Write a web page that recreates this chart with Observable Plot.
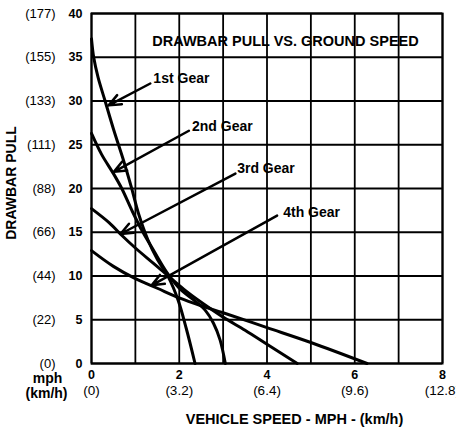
<!DOCTYPE html>
<html><head><meta charset="utf-8">
<script src="https://cdn.jsdelivr.net/npm/d3@7"></script>
<script src="https://cdn.jsdelivr.net/npm/@observablehq/plot@0.6"></script>
<style>
html,body{margin:0;padding:0;background:#fff;overflow:hidden;}
#chart svg{font-family:"Liberation Sans",Arial,Helvetica,sans-serif;}
</style></head><body><div id="chart"></div>
<script>
// Gear curves: vehicle speed (mph) vs drawbar pull
const gear1Speed = [0, 0.05, 0.15, 0.31, 0.5, 0.73, 0.9, 1.08, 1.28, 1.5, 1.75, 1.97, 2.16, 2.36];
const gear1Pull  = [37.1, 35, 32.7, 30, 26.8, 23.2, 20.3, 17, 14.2, 11.9, 9.9, 7.3, 4, 0];
const gear2Speed = [0, 0.23, 0.5, 0.69, 0.93, 1.16, 1.43, 1.72, 2.0, 2.32, 2.59, 2.78, 2.93, 3.05];
const gear2Pull  = [26.3, 23.9, 21.7, 20, 17.4, 15.1, 12.8, 10.4, 8.6, 7.3, 6.1, 4.6, 2.7, 0];
const gear3Speed = [0, 0.4, 0.7, 1.0, 1.4, 1.75, 2.1, 2.5, 3.0, 3.5, 4.0, 4.69];
const gear3Pull  = [17.7, 16.1, 14.6, 13.2, 11.5, 10.0, 8.5, 7.0, 5.3, 3.8, 2.2, 0];
const gear4Speed = [0, 0.5, 1.0, 1.5, 2.0, 2.5, 3.0, 4.0, 5.0, 6.28];
const gear4Pull  = [12.9, 11.1, 9.7, 8.6, 7.5, 6.6, 5.8, 4.1, 2.4, 0];

// Annotations (data units)
const gearNames  = ["1st Gear", "2nd Gear", "3rd Gear", "4th Gear"];
const labelSpeed = [1.41, 2.29, 3.32, 4.37];
const labelPull  = [32.6, 27.1, 22.3, 17.25];
const tailSpeed  = [1.34, 2.22, 3.28, 4.23];
const tailPull   = [32.0, 26.6, 21.7, 16.9];
const tipSpeed   = [0.39, 0.51, 0.66, 1.37];
const tipPull    = [29.5, 21.9, 14.8, 8.93];

// Axes
const xTicks = [0, 2, 4, 6, 8];
const xTickKmh = ["(0)", "(3.2)", "(6.4)", "(9.6)", "(12.8)"];
const xGrid = [0, 1, 2, 3, 4, 5, 6, 7, 8];
const yTicks = [0, 5, 10, 15, 20, 25, 30, 35, 40];
const yTickKg = ["(0)", "(22)", "(44)", "(66)", "(88)", "(111)", "(133)", "(155)", "(177)"];
const title = "DRAWBAR PULL VS. GROUND SPEED";
const xTitle = "VEHICLE SPEED - MPH - (km/h)";
const yTitle = "DRAWBAR PULL";
const xUnit = "mph";
const xUnitAlt = "(km/h)";

const gears = [
  [gear1Speed, gear1Pull], [gear2Speed, gear2Pull],
  [gear3Speed, gear3Pull], [gear4Speed, gear4Pull]
];
const curveData = gears.flatMap(([s, p], g) => s.map((v, i) => ({gear: gearNames[g], speed: v, pull: p[i]})));
const ann = gearNames.map((name, i) => ({
  name, lx: labelSpeed[i], ly: labelPull[i],
  x1: tailSpeed[i], y1: tailPull[i], x2: tipSpeed[i], y2: tipPull[i]
}));

const chart = Plot.plot({
  width: 456, height: 432,
  marginLeft: 91, marginRight: 14, marginTop: 13, marginBottom: 69,
  x: {domain: [0, 8], axis: null},
  y: {domain: [0, 40], axis: null},
  style: {background: "#fff", color: "#000"},
  marks: [
    Plot.ruleX(xGrid, {x: d => d, stroke: "#000", strokeWidth: 1.8}),
    Plot.ruleY(yTicks, {y: d => d, stroke: "#000", strokeWidth: 1.8}),
    Plot.frame({stroke: "#000", strokeWidth: 2}),
    Plot.line(curveData, {x: "speed", y: "pull", z: "gear", stroke: "#000", strokeWidth: 3, curve: "catmull-rom"}),
    Plot.arrow(ann, {x1: "x1", y1: "y1", x2: "x2", y2: "y2", stroke: "#000", strokeWidth: 2.5, headLength: 8, headAngle: 45, bend: 0}),
    Plot.text(ann, {x: "lx", y: "ly", text: "name", textAnchor: "start", fontSize: 14, fontWeight: "bold", fill: "#000"}),
    Plot.text([title], {frameAnchor: "top", dx: 18.5, dy: 22, fontSize: 14.5, fontWeight: "bold", fill: "#000"}),
    // y tick labels
    Plot.text(yTicks, {y: d => d, frameAnchor: "left", dx: -9, textAnchor: "end", text: d => String(d), fontSize: 12.5, fontWeight: "bold", fill: "#000"}),
    Plot.text(yTicks, {y: d => d, frameAnchor: "left", dx: -36, textAnchor: "end", text: d => yTickKg[yTicks.indexOf(d)], fontSize: 13, fill: "#000"}),
    // x tick labels
    Plot.text(xTicks, {x: d => d, frameAnchor: "bottom", dy: 15, text: d => String(d), fontSize: 12.5, fontWeight: "bold", fill: "#000"}),
    Plot.text(xTicks, {x: d => d, frameAnchor: "bottom", dy: 31, text: d => xTickKmh[xTicks.indexOf(d)], fontSize: 13.5, fill: "#000"}),
    Plot.text([xUnit], {frameAnchor: "bottom-left", dx: -44, dy: 10, textAnchor: "middle", lineAnchor: "top", fontSize: 14, fontWeight: "bold", fill: "#000"}),
    Plot.text([xUnitAlt], {frameAnchor: "bottom-left", dx: -45, dy: 25, textAnchor: "middle", lineAnchor: "top", fontSize: 14, fontWeight: "bold", fill: "#000"}),
    Plot.text([xTitle], {frameAnchor: "bottom", dx: 27.5, dy: 60, fontSize: 14.5, fontWeight: "bold", fill: "#000"}),
    Plot.text([yTitle], {frameAnchor: "left", dx: -80, dy: -5.5, rotate: -90, textAnchor: "middle", fontSize: 14, fontWeight: "bold", fill: "#000"})
  ]
});
document.getElementById("chart").append(chart);
</script></body></html>
